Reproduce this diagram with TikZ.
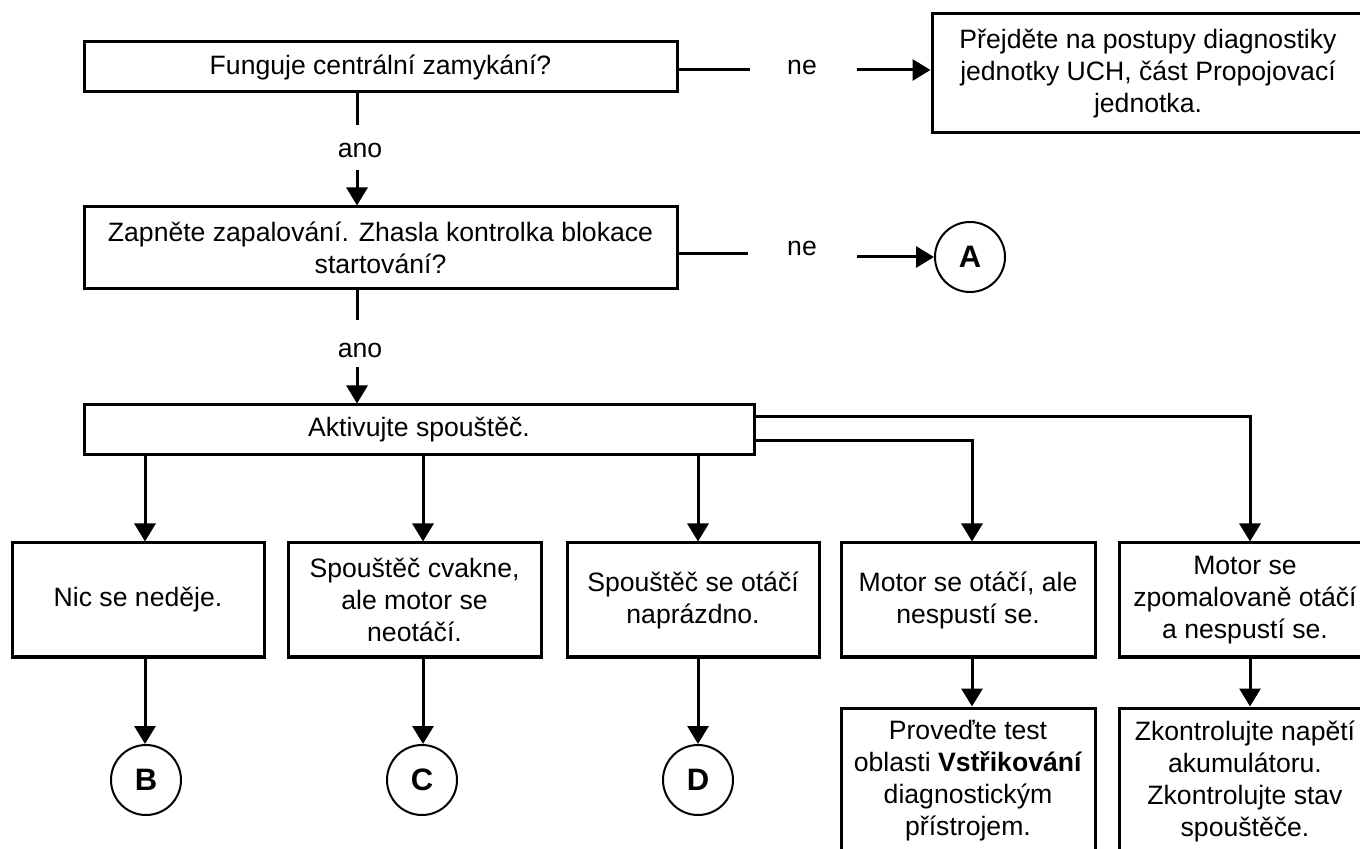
\documentclass[tikz,border=0pt]{standalone}
\usepackage{fontspec}
\setmainfont{Liberation Sans}
\usetikzlibrary{arrows.meta}
\newcommand\myfs{\fontsize{13.3pt}{16pt}\selectfont}
\tikzset{
  box/.style={draw, line width=1.5pt, inner sep=0pt, align=center, font=\myfs},
  lbl/.style={inner sep=0pt, font=\myfs},
  circ/.style={draw, circle, line width=1pt, minimum size=35pt, inner sep=0pt, font=\bfseries\fontsize{15.5pt}{18pt}\selectfont},
  ln/.style={line width=1.5pt},
  arr/.style={line width=1.5pt, -{Triangle[length=9pt,width=10.5pt]}}
}
\begin{document}
\begin{tikzpicture}[x=0.5pt, y=-0.5pt]
\useasboundingbox (0,0) rectangle (1360,849);
\clip (0,0) rectangle (1360,849);
\fill[white] (0,0) rectangle (1360,849);

% top row
\node[box, minimum width=296.5pt, minimum height=25pt] (b1) at (380.5,67) {Funguje centrální zamykání?};
\node[box, minimum width=216pt, minimum height=59.5pt] (b2) at (1148,73.5) {Přejděte na postupy diagnostiky\\jednotky UCH, část Propojovací\\jednotka.};
\coordinate (n1a) at (750,70);
\coordinate (n1b) at (857,70);
\node[lbl] (ne1) at (802,67) {ne};
\draw[ln] (b1.east |- n1a) -- (n1a);
\draw[arr] (n1b) -- (b2.west |- n1b);

% ano 1
\coordinate (y1a) at (357,125);
\coordinate (y1b) at (357,170);
\node[lbl] (ano1) at (360,150) {ano};
\draw[ln] (b1.south -| y1a) -- (y1a);

% second row
\node[box, minimum width=296.5pt, minimum height=41pt] (b3) at (380.5,248) {Zapněte zapalování. Zhasla kontrolka blokace\\startování?};
\draw[arr] (y1b) -- (b3.north -| y1b);
\node[circ] (cA) at (970,257) {A};
\coordinate (n2a) at (748,254);
\coordinate (n2b) at (857,257);
\node[lbl] (ne2) at (802,248) {ne};
\draw[ln] (b3.east |- n2a) -- (n2a);
\draw[arr] (n2b) -- (cA.west);

% ano 2
\coordinate (y2a) at (357,320);
\coordinate (y2b) at (357,367);
\node[lbl] (ano2) at (360,350) {ano};
\draw[ln] (b3.south -| y2a) -- (y2a);

% third row
\node[box, minimum width=335pt, minimum height=25pt] (b4) at (419,430) {Aktivujte spouštěč.};
\draw[arr] (y2b) -- (b4.north -| y2b);

% bottom boxes
\node[box, minimum width=126pt, minimum height=57pt] (bB) at (138,600) {Nic se neděje.};
\node[box, minimum width=126.5pt, minimum height=57pt] (bC) at (414.5,600) {Spouštěč cvakne,\\ale motor se\\neotáčí.};
\node[box, minimum width=126pt, minimum height=57pt] (bD) at (693,600) {Spouštěč se otáčí\\naprázdno.};
\node[box, minimum width=127pt, minimum height=57pt] (bE) at (968,600) {Motor se otáčí, ale\\nespustí se.};
\node[box, minimum width=126pt, minimum height=57pt] (bF) at (1245,600) {Motor se\\zpomalovaně otáčí\\a nespustí se.};

\coordinate (xB) at (145,0);
\coordinate (xC) at (423,0);
\coordinate (xD) at (698,0);
\coordinate (xE) at (972,0);
\coordinate (r1) at (1250,417);
\coordinate (r2) at (972,441);

\draw[arr] (b4.south -| xB) -- (bB.north -| xB);
\draw[arr] (b4.south -| xC) -- (bC.north -| xC);
\draw[arr] (b4.south -| xD) -- (bD.north -| xD);
\draw[arr] (b4.east |- r2) -- (r2) -- (bE.north -| r2);
\draw[arr] (b4.east |- r1) -- (r1) -- (bF.north -| r1);

% circles
\node[circ] (cB) at (146,780) {B};
\node[circ] (cC) at (422,780) {C};
\node[circ] (cD) at (698,780) {D};
\draw[arr] (bB.south -| xB) -- (cB.north -| xB);
\draw[arr] (bC.south -| xC) -- (cC.north -| xC);
\draw[arr] (bD.south -| xD) -- (cD.north -| xD);

% last boxes
\node[box, minimum width=127pt, minimum height=73pt] (bG) at (968,781) {Proveďte test\\oblasti \textbf{Vstřikování}\\diagnostickým\\přístrojem.};
\node[box, minimum width=126pt, minimum height=73pt] (bH) at (1245,781) {Zkontrolujte napětí\\akumulátoru.\\Zkontrolujte stav\\spouštěče.};
\draw[arr] (bE.south -| xE) -- (bG.north -| xE);
\draw[arr] (bF.south -| r1) -- (bH.north -| r1);
\end{tikzpicture}
\end{document}
